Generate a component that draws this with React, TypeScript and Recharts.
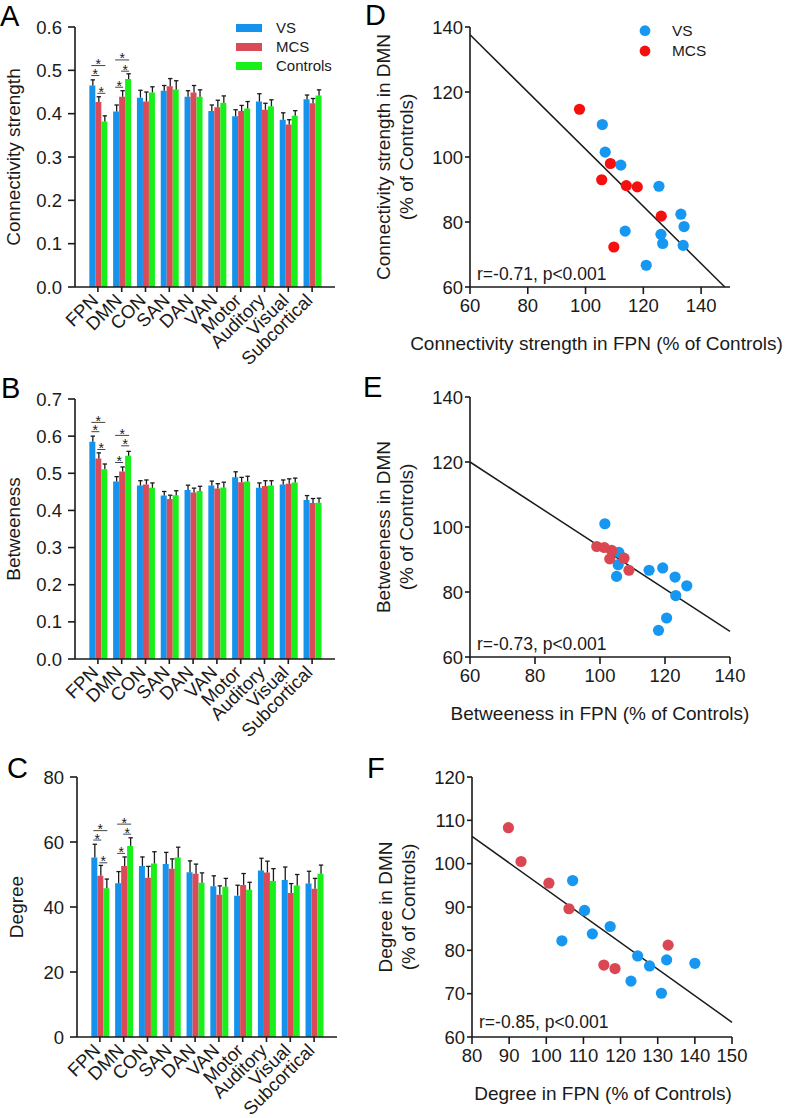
import React from 'react';
import { BarChart, Bar, XAxis, YAxis, ScatterChart, Scatter, ReferenceLine, LabelList, Legend } from 'recharts';

const FONT = '"Liberation Sans", Arial, Helvetica, sans-serif';
const INK = '#1a1a1a';
const BAR_BLUE = '#1592EC';
const BAR_RED = '#DB4B57';
const BAR_GREEN = '#19F019';
const PT_BLUE = '#1597F2';
const PT_RED_D = '#F50F0F';
const PT_RED = '#DA4753';

const networks = ['FPN', 'DMN', 'CON', 'SAN', 'DAN', 'VAN', 'Motor', 'Auditory', 'Visual', 'Subcortical'];
const groupNames = ['VS', 'MCS', 'Controls'];

// Panel A: connectivity strength
const strengthVS = [0.465, 0.405, 0.437, 0.453, 0.439, 0.406, 0.394, 0.428, 0.386, 0.433];
const strengthMCS = [0.427, 0.439, 0.428, 0.463, 0.449, 0.415, 0.406, 0.409, 0.375, 0.424];
const strengthCtl = [0.382, 0.480, 0.449, 0.456, 0.439, 0.425, 0.412, 0.417, 0.395, 0.442];
const strengthVSErr = [0.013, 0.015, 0.017, 0.012, 0.014, 0.014, 0.015, 0.018, 0.016, 0.010];
const strengthMCSErr = [0.012, 0.014, 0.022, 0.018, 0.016, 0.016, 0.013, 0.015, 0.011, 0.011];
const strengthCtlErr = [0.013, 0.012, 0.013, 0.020, 0.016, 0.016, 0.016, 0.015, 0.012, 0.013];
const strengthTicks = [0, 0.1, 0.2, 0.3, 0.4, 0.5, 0.6];
const strengthSig = [
  { cat: 0, from: 0, to: 2, level: 0.511 },
  { cat: 0, from: 0, to: 1, level: 0.488 },
  { cat: 0, from: 1, to: 2, level: 0.447 },
  { cat: 1, from: 0, to: 2, level: 0.524 },
  { cat: 1, from: 1, to: 2, level: 0.498 },
  { cat: 1, from: 0, to: 1, level: 0.461 },
];

// Panel B: betweeness
const betwVS = [0.585, 0.478, 0.467, 0.440, 0.455, 0.467, 0.489, 0.461, 0.470, 0.428];
const betwMCS = [0.540, 0.505, 0.470, 0.431, 0.448, 0.459, 0.476, 0.466, 0.472, 0.420];
const betwCtl = [0.511, 0.547, 0.461, 0.441, 0.452, 0.462, 0.478, 0.467, 0.475, 0.421];
const betwVSErr = [0.015, 0.013, 0.013, 0.011, 0.013, 0.012, 0.015, 0.013, 0.012, 0.012];
const betwMCSErr = [0.015, 0.012, 0.012, 0.010, 0.012, 0.013, 0.013, 0.014, 0.013, 0.012];
const betwCtlErr = [0.014, 0.012, 0.013, 0.012, 0.013, 0.014, 0.014, 0.013, 0.012, 0.012];
const betwTicks = [0, 0.1, 0.2, 0.3, 0.4, 0.5, 0.6, 0.7];
const betwSig = [
  { cat: 0, from: 0, to: 2, level: 0.637 },
  { cat: 0, from: 0, to: 1, level: 0.612 },
  { cat: 0, from: 1, to: 2, level: 0.564 },
  { cat: 1, from: 0, to: 2, level: 0.602 },
  { cat: 1, from: 1, to: 2, level: 0.574 },
  { cat: 1, from: 0, to: 1, level: 0.529 },
];

// Panel C: degree
const degVS = [55.2, 47.3, 52.6, 53.2, 50.7, 46.4, 43.5, 51.2, 48.3, 47.2];
const degMCS = [49.6, 52.6, 49.0, 51.8, 50.2, 43.8, 46.8, 50.6, 44.3, 45.6];
const degCtl = [45.8, 58.8, 53.4, 55.2, 47.5, 46.2, 45.3, 48.0, 46.6, 50.2];
const degVSErr = [4.1, 3.6, 2.8, 3.6, 3.5, 3.2, 3.2, 3.8, 4.0, 3.8];
const degMCSErr = [3.2, 2.8, 3.5, 3.0, 3.0, 2.7, 3.5, 3.5, 2.9, 3.2];
const degCtlErr = [2.8, 2.5, 3.6, 3.2, 3.0, 2.6, 2.3, 3.8, 3.4, 2.7];
const degTicks = [0, 20, 40, 60, 80];
const degSig = [
  { cat: 0, from: 0, to: 2, level: 63.5 },
  { cat: 0, from: 0, to: 1, level: 60.6 },
  { cat: 0, from: 1, to: 2, level: 53.6 },
  { cat: 1, from: 0, to: 2, level: 65.5 },
  { cat: 1, from: 1, to: 2, level: 62.4 },
  { cat: 1, from: 0, to: 1, level: 56.5 },
];

// Panel D: strength DMN vs FPN (% of controls)
const dVS = [
  { x: 105.8, y: 110.0 }, { x: 106.8, y: 101.5 }, { x: 112.2, y: 97.5 }, { x: 125.4, y: 91.0 },
  { x: 133.0, y: 82.4 }, { x: 134.1, y: 78.6 }, { x: 113.7, y: 77.2 }, { x: 126.1, y: 76.2 },
  { x: 126.7, y: 73.4 }, { x: 133.8, y: 72.8 }, { x: 121.0, y: 66.7 },
];
const dMCS = [
  { x: 97.9, y: 114.7 }, { x: 108.6, y: 98.0 }, { x: 105.6, y: 93.0 }, { x: 114.1, y: 91.2 },
  { x: 117.9, y: 90.8 }, { x: 126.2, y: 81.8 }, { x: 109.8, y: 72.3 },
];
const dFit = [{ x: 60, y: 137.6 }, { x: 148.2, y: 60 }];

// Panel E: betweeness
const eVS = [
  { x: 101.5, y: 101.0 }, { x: 105.8, y: 92.2 }, { x: 105.6, y: 88.4 }, { x: 105.1, y: 84.8 },
  { x: 115.1, y: 86.7 }, { x: 119.3, y: 87.4 }, { x: 123.1, y: 84.6 }, { x: 126.7, y: 81.9 },
  { x: 123.3, y: 78.9 }, { x: 120.5, y: 72.0 }, { x: 118.0, y: 68.2 },
];
const eMCS = [
  { x: 99.0, y: 94.0 }, { x: 101.3, y: 93.7 }, { x: 103.6, y: 92.8 }, { x: 107.4, y: 90.4 },
  { x: 103.0, y: 90.2 }, { x: 108.9, y: 86.7 },
];
const eFit = [{ x: 60, y: 120 }, { x: 140, y: 67.9 }];

// Panel F: degree
const fVS = [
  { x: 107.1, y: 96.1 }, { x: 110.3, y: 89.2 }, { x: 117.2, y: 85.5 }, { x: 112.4, y: 83.8 },
  { x: 104.2, y: 82.2 }, { x: 124.6, y: 78.7 }, { x: 127.8, y: 76.4 }, { x: 132.4, y: 77.8 },
  { x: 140.0, y: 77.0 }, { x: 122.8, y: 72.9 }, { x: 131.0, y: 70.1 },
];
const fMCS = [
  { x: 89.8, y: 108.3 }, { x: 93.2, y: 100.5 }, { x: 100.7, y: 95.5 }, { x: 106.1, y: 89.6 },
  { x: 132.8, y: 81.2 }, { x: 115.5, y: 76.6 }, { x: 118.5, y: 75.8 },
];
const fFit = [{ x: 80, y: 106.3 }, { x: 150, y: 63.4 }];

type Sig = { cat: number; from: number; to: number; level: number };

const TITLE_SIZE = 19;
const tickStyle = { fontSize: 18.5, fontFamily: FONT, fill: INK };
const axisLineStyle = { stroke: INK, strokeWidth: 1.6 };

const RotTick = (props: any) => {
  const { x, y, payload } = props;
  const tx = x - 3;
  return (
    <text x={tx} y={y} transform={`rotate(-45 ${tx} ${y})`} textAnchor="end" dy="0.35em"
      fontSize={18.5} fontFamily={FONT} fill={INK}>{payload.value}</text>
  );
};

const singleYTitle = (title: string, x: number) => (p: any) => {
  const vb = p.viewBox || {};
  const cy = vb.y + vb.height / 2;
  return (
    <text x={x} y={cy} transform={`rotate(-90 ${x} ${cy})`} textAnchor="middle" dominantBaseline="central"
      fontSize={TITLE_SIZE} fontFamily={FONT} fill={INK}>{title}</text>
  );
};

const doubleYTitle = (lines: string[], xs: number[]) => (p: any) => {
  const vb = p.viewBox || {};
  const cy = vb.y + vb.height / 2;
  return (
    <g>
      {lines.map((t, k) => (
        <text key={k} x={xs[k]} y={cy} transform={`rotate(-90 ${xs[k]} ${cy})`} textAnchor="middle"
          dominantBaseline="central" fontSize={TITLE_SIZE} fontFamily={FONT} fill={INK}>{t}</text>
      ))}
    </g>
  );
};

const xTitleWithR = (title: string, titleShift: number, rText: string, rBase: number) => (p: any) => {
  const vb = p.viewBox || {};
  return (
    <g>
      <text x={vb.x + vb.width / 2 + titleShift} y={vb.y + 56} textAnchor="middle" dominantBaseline="central"
        fontSize={TITLE_SIZE} fontFamily={FONT} fill={INK}>{title}</text>
      <text x={vb.x + 7} y={vb.y - rBase} fontSize={17.5} fontFamily={FONT} fill={INK}>{rText}</text>
    </g>
  );
};

const BarLegend = () => {
  const cols = [BAR_BLUE, BAR_RED, BAR_GREEN];
  return (
    <svg width={130} height={60} style={{ overflow: 'visible' }}>
      {groupNames.map((n, k) => (
        <g key={n}>
          <rect x={0} y={6 + k * 19} width={26} height={8} fill={cols[k]} />
          <text x={40} y={15 + k * 19} fontSize={15} fontFamily={FONT} fill={INK}>{n}</text>
        </g>
      ))}
    </svg>
  );
};

const DotLegend = () => {
  const cols = [PT_BLUE, PT_RED_D];
  return (
    <svg width={100} height={45} style={{ overflow: 'visible' }}>
      {groupNames.slice(0, 2).map((n, k) => (
        <g key={n}>
          <circle cx={6} cy={10.7 + k * 20.3} r={5.4} fill={cols[k]} />
          <text x={33} y={16 + k * 20.3} fontSize={15.4} fontFamily={FONT} fill={INK}>{n}</text>
        </g>
      ))}
    </svg>
  );
};

function BarPanel(props: {
  top: number; yWidth: number; xHeight: number; domain: number[]; ticks: number[]; decimals: number;
  title: string; titleX: number; vals: number[][]; errs: number[][]; sig: Sig[]; legend?: boolean;
}) {
  const { top, yWidth, xHeight, domain, ticks, decimals, title, titleX, vals, errs, sig, legend } = props;
  const rows = networks.map((name, i) => ({ name, vs: vals[0][i], mcs: vals[1][i], ctl: vals[2][i] }));
  const keys = ['vs', 'mcs', 'ctl'];
  const colors = [BAR_BLUE, BAR_RED, BAR_GREEN];
  const makeLabel = (s: number) => (lp: any) => {
    const vb = lp.viewBox || lp;
    const x = Number(vb.x), y = Number(vb.y), w = Number(vb.width), h = Number(vb.height);
    const i = lp.index;
    const v = vals[s][i];
    if (!isFinite(x) || !isFinite(h) || !v) return null;
    const ppu = h / v;
    const base = y + h;
    const cx = x + w / 2 + 0.5;
    const ey = base - (v + errs[s][i]) * ppu;
    return (
      <g>
        <line x1={cx} x2={cx} y1={y} y2={ey} stroke={INK} strokeWidth={1.3} />
        <line x1={cx - 2.2} x2={cx + 2.2} y1={ey} y2={ey} stroke={INK} strokeWidth={1.3} />
        {s === 0 && sig.filter((b) => b.cat === i).map((b, k) => {
          const ly = base - b.level * ppu;
          const x1 = x + b.from * w + w / 2 - 1;
          const x2 = x + b.to * w + w / 2 + 1;
          return (
            <g key={k}>
              <line x1={x1} x2={x2} y1={ly} y2={ly} stroke="#444" strokeWidth={1} />
              <text x={(x1 + x2) / 2} y={ly + 3.5} textAnchor="middle" fontSize={14} fontFamily={FONT} fill={INK}>*</text>
            </g>
          );
        })}
      </g>
    );
  };
  return (
    <div style={{ position: 'absolute', left: 0, top }}>
      <BarChart width={390} height={27 + 260 + xHeight} data={rows} margin={{ top: 27, right: 390 - yWidth - 260, bottom: 0, left: 0 }}
        barGap={0} barCategoryGap="14%" style={{ overflow: 'visible' }}>
        <XAxis dataKey="name" interval={0} height={xHeight} padding={{ left: 11, right: 11 }} tickSize={5} tickMargin={5}
          axisLine={axisLineStyle} tickLine={axisLineStyle} tick={<RotTick />} />
        <YAxis type="number" domain={domain} ticks={ticks} width={yWidth} tickSize={7} tickMargin={6}
          allowDataOverflow axisLine={axisLineStyle} tickLine={axisLineStyle} tick={tickStyle}
          tickFormatter={(v: number) => v.toFixed(decimals)} label={{ content: singleYTitle(title, titleX) }} />
        {keys.map((k, s) => (
          <Bar key={k} dataKey={k} fill={colors[s]} isAnimationActive={false}>
            <LabelList dataKey={k} content={makeLabel(s)} />
          </Bar>
        ))}
        {legend && (
          <Legend layout="vertical" align="center" verticalAlign="middle"
            wrapperStyle={{ position: 'absolute', left: 236, top: 18, width: 130, height: 60 }}
            content={() => <BarLegend />} />
        )}
      </BarChart>
    </div>
  );
}

function ScatterPanel(props: {
  top: number; yWidth: number; xDomain: number[]; xTicks: number[]; yDomain: number[]; yTicks: number[];
  vs: { x: number; y: number }[]; mcs: { x: number; y: number }[]; fit: { x: number; y: number }[];
  mcsColor: string; xTitle: string; titleShift: number; yTitle: string[]; yTitleXs: number[]; rText: string; rBase: number; legend?: boolean;
}) {
  const p = props;
  const dot = (color: string) => (sp: any) => <circle cx={sp.cx} cy={sp.cy} r={5.6} fill={color} />;
  return (
    <div style={{ position: 'absolute', left: 350, top: p.top }}>
      <ScatterChart width={437} height={367} margin={{ top: 27, right: 437 - p.yWidth - 260, bottom: 0, left: 0 }}
        style={{ overflow: 'visible' }}>
        <XAxis type="number" dataKey="x" domain={p.xDomain} ticks={p.xTicks} allowDataOverflow height={80}
          tickSize={7} tickMargin={5} axisLine={axisLineStyle} tickLine={axisLineStyle} tick={tickStyle}
          label={{ content: xTitleWithR(p.xTitle, p.titleShift, p.rText, p.rBase) }} />
        <YAxis type="number" dataKey="y" domain={p.yDomain} ticks={p.yTicks} allowDataOverflow width={p.yWidth}
          tickSize={5} tickMargin={2} axisLine={axisLineStyle} tickLine={axisLineStyle} tick={tickStyle}
          label={{ content: doubleYTitle(p.yTitle, p.yTitleXs) }} />
        <ReferenceLine segment={[p.fit[0], p.fit[1]]} stroke={INK} strokeWidth={1.5} />
        <Scatter data={p.vs} fill={PT_BLUE} shape={dot(PT_BLUE)} isAnimationActive={false} />
        <Scatter data={p.mcs} fill={p.mcsColor} shape={dot(p.mcsColor)} isAnimationActive={false} />
        {p.legend && (
          <Legend layout="vertical" align="center" verticalAlign="middle"
            wrapperStyle={{ position: 'absolute', left: 289, top: 20, width: 100, height: 45 }}
            content={() => <DotLegend />} />
        )}
      </ScatterChart>
    </div>
  );
}

const panelLetters = [
  { t: 'A', x: 0, y: 26 },
  { t: 'D', x: 365, y: 25 },
  { t: 'B', x: 1, y: 398 },
  { t: 'E', x: 363, y: 397 },
  { t: 'C', x: 7, y: 778 },
  { t: 'F', x: 367, y: 778 },
];

export default function App() {
  return (
    <div style={{ position: 'absolute', left: 0, top: 0, width: 787, height: 1118, overflow: 'hidden', background: '#fff' }}>
      <BarPanel top={0} yWidth={75} xHeight={90} domain={[0, 0.6]} ticks={strengthTicks} decimals={1} title="Connectivity strength" titleX={13}
        vals={[strengthVS, strengthMCS, strengthCtl]} errs={[strengthVSErr, strengthMCSErr, strengthCtlErr]} sig={strengthSig} legend />
      <BarPanel top={372} yWidth={75} xHeight={90} domain={[0, 0.7]} ticks={betwTicks} decimals={1} title="Betweeness" titleX={13}
        vals={[betwVS, betwMCS, betwCtl]} errs={[betwVSErr, betwMCSErr, betwCtlErr]} sig={betwSig} />
      <BarPanel top={750} yWidth={77} xHeight={80} domain={[0, 80]} ticks={degTicks} decimals={0} title="Degree" titleX={16}
        vals={[degVS, degMCS, degCtl]} errs={[degVSErr, degMCSErr, degCtlErr]} sig={degSig} />

      <ScatterPanel top={0} yWidth={120} xDomain={[60, 150]} xTicks={[60, 80, 100, 120, 140]} yDomain={[60, 140]}
        yTicks={[60, 80, 100, 120, 140]} vs={dVS} mcs={dMCS} fit={dFit} mcsColor={PT_RED_D}
        xTitle="Connectivity strength in FPN (% of Controls)" titleShift={-3.5}
        yTitle={['Connectivity strength in DMN', '(% of Controls)']}
        yTitleXs={[33, 56]} rText="r=-0.71, p<0.001" rBase={7} legend />
      <ScatterPanel top={370} yWidth={120} xDomain={[60, 140]} xTicks={[60, 80, 100, 120, 140]} yDomain={[60, 140]}
        yTicks={[60, 80, 100, 120, 140]} vs={eVS} mcs={eMCS} fit={eFit} mcsColor={PT_RED}
        xTitle="Betweeness in FPN (% of Controls)" titleShift={0} yTitle={['Betweeness in DMN', '(% of Controls)']}
        yTitleXs={[33, 56]} rText="r=-0.73, p<0.001" rBase={7.5} />
      <ScatterPanel top={750} yWidth={122} xDomain={[80, 150]} xTicks={[80, 90, 100, 110, 120, 130, 140, 150]} yDomain={[60, 120]}
        yTicks={[60, 70, 80, 90, 100, 110, 120]} vs={fVS} mcs={fMCS} fit={fFit} mcsColor={PT_RED}
        xTitle="Degree in FPN (% of Controls)" titleShift={1} yTitle={['Degree in DMN', '(% of Controls)']}
        yTitleXs={[35, 58]} rText="r=-0.85, p<0.001" rBase={9} />

      <svg width={787} height={1118} style={{ position: 'absolute', left: 0, top: 0, pointerEvents: 'none' }}>
        {panelLetters.map((l) => (
          <text key={l.t} x={l.x} y={l.y} fontSize={29} fontFamily={FONT} fill="#000">{l.t}</text>
        ))}
      </svg>
    </div>
  );
}
